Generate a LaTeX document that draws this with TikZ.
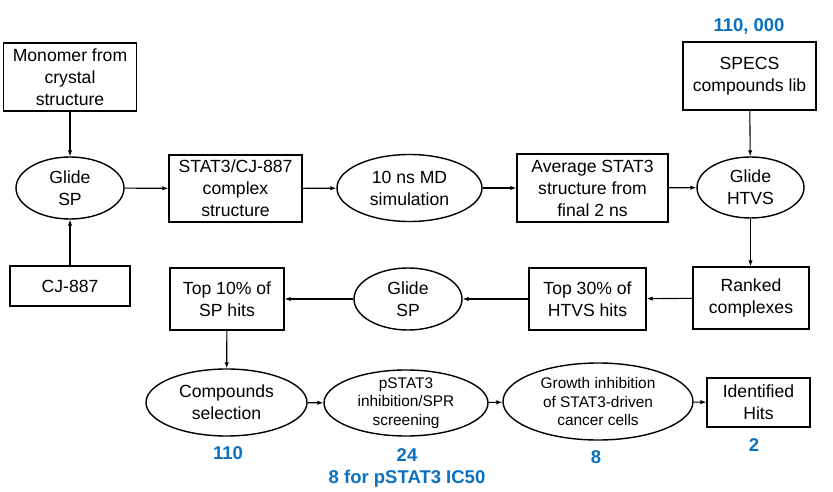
\documentclass[tikz,border=0pt]{standalone}
\usepackage{fontspec}
\setmainfont{Liberation Sans}
\usetikzlibrary{shapes.geometric,arrows.meta}
\definecolor{numblue}{HTML}{0A70C0}
\tikzset{
  box/.style={draw, line width=1.4pt, rectangle, inner sep=0pt, align=center,
    font=\fontsize{17.6}{22}\selectfont},
  ell/.style={draw, line width=1.4pt, ellipse, inner sep=0pt},
  lbl/.style={align=center, inner sep=0pt, font=\fontsize{17.6}{22}\selectfont},
  slbl/.style={align=center, inner sep=0pt, font=\fontsize{15.4}{18.5}\selectfont},
  num/.style={text=numblue, inner sep=0pt, font=\fontsize{18.5}{22}\selectfont\bfseries},
  arr/.style={line width=1.1pt, -{Latex[length=6pt,width=4.5pt]}}
}
\begin{document}
\begin{tikzpicture}[x=1pt,y=-1pt]
\useasboundingbox (0,0) rectangle (833,492);
% top row
\node[box, minimum width=133pt, minimum height=68pt] (monomer) at (70,77) {Monomer from\\crystal\\structure};
\node[ell, minimum width=108pt, minimum height=62pt, label={[lbl]center:{Glide\\SP}}] (glide1) at (70,188) {};
\node[box, minimum width=120pt, minimum height=40pt] (cj) at (70,286) {CJ-887};
\node[box, minimum width=133pt, minimum height=67pt] (stat3) at (235.5,188.5) {STAT3/CJ-887\\complex\\structure};
\node[ell, minimum width=145pt, minimum height=67pt, label={[lbl]center:{10 ns MD\\simulation}}] (md) at (409.5,188) {};
\node[box, minimum width=151pt, minimum height=68pt] (avg) at (592.5,188) {Average STAT3\\structure from\\final 2 ns};
\node[ell, minimum width=107pt, minimum height=61pt, label={[lbl]center:{Glide\\HTVS}}] (htvs) at (750.5,187.5) {};
\node[box, minimum width=133pt, minimum height=68pt] (specs) at (749.5,76) {SPECS\\compounds lib};
\node[num] (n110k) at (749,26) {110, 000};
% middle row
\node[box, minimum width=116pt, minimum height=62pt] (ranked) at (751,298) {Ranked\\complexes};
\node[box, minimum width=117pt, minimum height=62pt] (top30) at (587.5,299) {Top 30\% of\\HTVS hits};
\node[ell, minimum width=108pt, minimum height=62pt, label={[lbl]center:{Glide\\SP}}] (glide2) at (408,299) {};
\node[box, minimum width=114pt, minimum height=62pt] (top10) at (227,299) {Top 10\% of\\SP hits};
% bottom row
\node[ell, minimum width=161pt, minimum height=67pt, label={[lbl]center:{Compounds\\selection}}] (comp) at (226.5,402.5) {};
\node[ell, minimum width=164pt, minimum height=66pt, label={[slbl]center:{pSTAT3\\inhibition/SPR\\screening}}] (pstat) at (406,403) {};
\node[ell, minimum width=190pt, minimum height=77pt, label={[slbl]center:{Growth inhibition\\of STAT3-driven\\cancer cells}}] (growth) at (598,401.5) {};
\node[box, minimum width=103pt, minimum height=49pt] (hits) at (758.5,402.5) {Identified\\Hits};
\node[num] (n110) at (228,453) {110};
\node[num] (n24) at (407,455) {24};
\node[num] (n8ic) at (407,479) {8 for pSTAT3 IC50};
\node[num] (n8) at (596,457) {8};
\node[num] (n2) at (754,445) {2};
% connectors
\draw[arr] (monomer) -- (glide1);
\draw[arr] (cj) -- (glide1);
\draw[arr] (glide1) -- (stat3);
\draw[arr] (stat3) -- (md);
\draw[arr] (md) -- (avg);
\draw[arr] (avg) -- (htvs);
\draw[arr] (specs) -- (htvs);
\draw[arr] (htvs.south) -- (htvs.south |- ranked.north);
\draw[arr] (ranked) -- (top30);
\draw[arr] (top30) -- (glide2);
\draw[arr] (glide2) -- (top10);
\draw[arr] (top10) -- (comp);
\draw[arr] (comp) -- (pstat);
\draw[arr] (pstat) -- (growth);
\draw[arr] (growth) -- (hits);
\end{tikzpicture}
\end{document}
